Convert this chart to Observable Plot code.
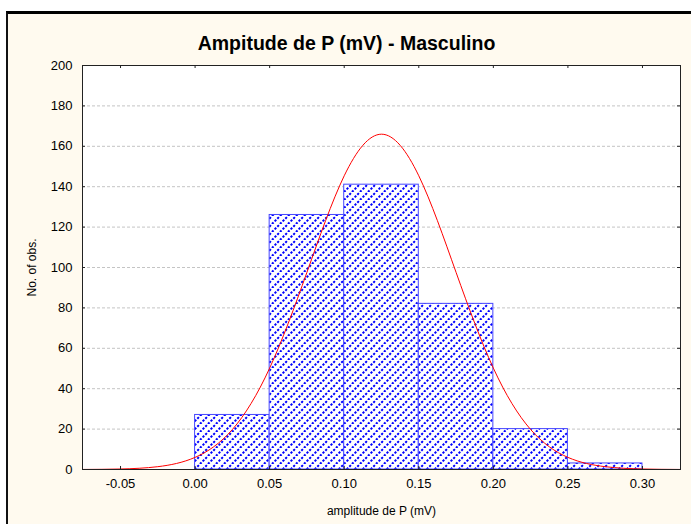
<!DOCTYPE html>
<html>
<head>
<meta charset="utf-8">
<script src="https://cdn.jsdelivr.net/npm/d3@7"></script>
<script src="https://cdn.jsdelivr.net/npm/@observablehq/plot@0.6"></script>
<style>
  html, body { margin: 0; padding: 0; background: #ffffff; }
  #wrap { position: relative; width: 691px; height: 524px; overflow: hidden; }
  #panel { position: absolute; left: 6px; top: 11px; width: 700px; height: 540px;
           background: #fffaef; border-top: 3px solid #000; border-left: 2px solid #111; }
  #chart { position: absolute; left: 0; top: 0; }
</style>
</head>
<body>
<div id="wrap"><div id="panel"></div><div id="chart"></div></div>
<script>
// ---- data ----
const binStart = [0.00, 0.05, 0.10, 0.15, 0.20, 0.25];
const binEnd   = [0.05, 0.10, 0.15, 0.20, 0.25, 0.30];
const counts   = [27, 126, 141, 82, 20, 3];

// fitted normal curve
const curveX = [-0.075, -0.05, -0.025, 0.00, 0.025, 0.05, 0.075, 0.10, 0.125, 0.15, 0.175, 0.20, 0.225, 0.25, 0.275, 0.30, 0.325];
const curveY = [0.03, 0.25, 1.4, 6.0, 19.8, 50.2, 97.6, 145.4, 166, 145.4, 97.6, 50.2, 19.8, 6.0, 1.4, 0.25, 0.03];

const xTicks = [-0.05, 0.00, 0.05, 0.10, 0.15, 0.20, 0.25, 0.30];
const xTickLabels = ["-0.05", "0.00", "0.05", "0.10", "0.15", "0.20", "0.25", "0.30"];
const yTicks = [0, 20, 40, 60, 80, 100, 120, 140, 160, 180, 200];
const yGrid = [20, 40, 60, 80, 100, 120, 140, 160, 180];

const title = "Ampitude de P (mV) - Masculino";
const xLabel = "amplitude de P (mV)";
const yLabel = "No. of obs.";

const xDomain = [-0.0755, 0.3255];
const yDomain = [0, 200];

// ---- tables ----
const bars = binStart.map((s, i) => ({x1: s, x2: binEnd[i], y: counts[i]}));
const curve = curveX.map((x, i) => ({x, y: curveY[i]}));
const xLabelMap = new Map(xTicks.map((t, i) => [t, xTickLabels[i]]));

const tickLenX = 0.002;  // inward tick length in x units
const tickLenY = 1.5;    // inward tick length in y units

const chart = Plot.plot({
  width: 691,
  height: 524,
  marginLeft: 82,
  marginRight: 11,
  marginTop: 65,
  marginBottom: 55,
  style: {background: "transparent", fontFamily: "'Liberation Sans', Arial, sans-serif", color: "#000"},
  x: {domain: xDomain},
  y: {domain: yDomain},
  marks: [
    Plot.frame({fill: "#ffffff", stroke: null}),
    Plot.ruleY(yGrid, {stroke: "#c4c4c4", strokeDasharray: "3,2", strokeWidth: 1}),
    Plot.rectY(bars, {x1: "x1", x2: "x2", y: "y", fill: "url(#hatch)", stroke: "#4646ff", strokeWidth: 1}),
    Plot.line(curve, {x: "x", y: "y", curve: "natural", stroke: "#ff0000", strokeWidth: 1, clip: true}),
    Plot.frame({stroke: "#222", strokeWidth: 1}),
    // inward ticks
    Plot.ruleX(xTicks, {y1: yDomain[1], y2: yDomain[1] - tickLenY, stroke: "#222"}),
    Plot.ruleX(xTicks, {y1: yDomain[0], y2: yDomain[0] + tickLenY, stroke: "#222"}),
    Plot.ruleY(yTicks, {x1: xDomain[0], x2: xDomain[0] + tickLenX, stroke: "#222"}),
    Plot.ruleY(yTicks, {x1: xDomain[1], x2: xDomain[1] - tickLenX, stroke: "#222"}),
    Plot.axisX({ticks: xTicks, tickFormat: d => xLabelMap.get(d), tickSize: 0, tickPadding: 9, fontSize: 13, label: null}),
    Plot.axisY({ticks: yTicks, tickSize: 0, tickPadding: 10, fontSize: 13, label: null}),
    Plot.text([xLabel], {frameAnchor: "bottom", lineAnchor: "middle", dy: 42, fontSize: 12, fill: "#000"}),
    Plot.text([yLabel], {frameAnchor: "left", textAnchor: "middle", lineAnchor: "middle", dx: -50, rotate: -90, fontSize: 12, fill: "#000"}),
    Plot.text([title], {frameAnchor: "top", lineAnchor: "middle", dx: -35, dy: -22, fontSize: 19.5, fontWeight: "bold", fill: "#000"})
  ]
});

d3.select(chart).insert("defs", ":first-child").html(
  '<pattern id="hatch" patternUnits="userSpaceOnUse" width="8" height="8">' +
  '<rect width="8" height="8" fill="#ffffff"/>' +
  '<g stroke="#0000ff" stroke-width="2" stroke-dasharray="2.2 1.57" fill="none">' +
  '<line x1="0" y1="8" x2="8" y2="0"/>' +
  '<line x1="-8" y1="8" x2="0" y2="0"/>' +
  '<line x1="8" y1="8" x2="16" y2="0"/>' +
  '</g>' +
  '</pattern>'
);
document.getElementById("chart").appendChild(chart);
</script>
</body>
</html>
